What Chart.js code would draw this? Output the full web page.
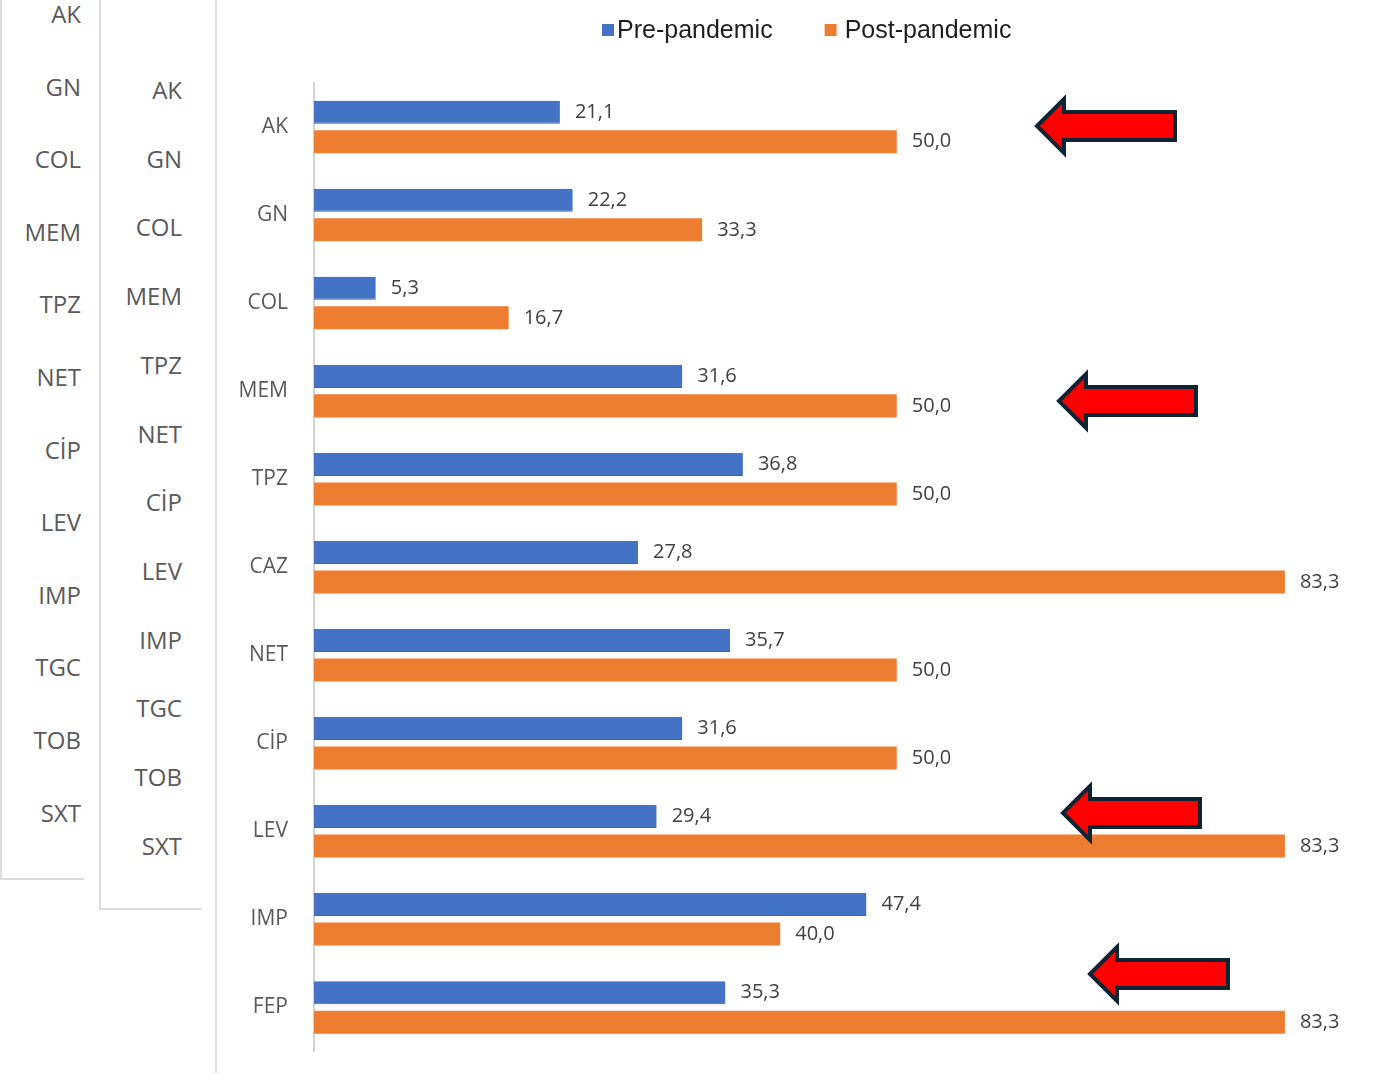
<!DOCTYPE html>
<html>
<head>
<meta charset="utf-8">
<script src="https://cdn.jsdelivr.net/npm/chart.js@4.4.0/dist/chart.umd.min.js"></script>
<style>
  html, body { margin: 0; padding: 0; background: #fff; }
  body { width: 1386px; height: 1073px; position: relative; overflow: hidden; font-family: "Open Sans", sans-serif; }
  .panel { position: absolute; border-color: #dcdcdc; border-style: solid; }
  .panel span { position: absolute; color: #5a5a5a; font-size: 24px; line-height: 1; transform: translateY(-50%); }
  #panel1 span { right: 3px; }
  #panel2 span { right: 19px; }
  /* o eixo y reserva ~39px embaixo, então a caixa passa um pouco do fundo da janela */
  #chartBox { position: absolute; left: 215px; top: 0; width: 1171px; height: 1090px; border-left: 2px solid #e2e2e2; box-sizing: border-box; }
  #arrows { position: absolute; left: 0; top: 0; pointer-events: none; }
</style>
</head>
<body>
<div class="panel" id="panel1" style="left:0;top:-2px;width:82px;height:880px;border-width:0 0 2px 2px;"></div>
<div class="panel" id="panel2" style="left:99px;top:-2px;width:100px;height:910px;border-width:0 0 2px 2px;"></div>
<div id="chartBox"><canvas id="chart"></canvas></div>
<svg id="arrows" width="1386" height="1073"></svg>

<script>
// Categorias e valores (%)
const categories = ['AK', 'GN', 'COL', 'MEM', 'TPZ', 'CAZ', 'NET', 'CİP', 'LEV', 'IMP', 'FEP'];
const prePandemic = [21.1, 22.2, 5.3, 31.6, 36.8, 27.8, 35.7, 31.6, 29.4, 47.4, 35.3];
const postPandemic = [50.0, 33.3, 16.7, 50.0, 50.0, 83.3, 50.0, 50.0, 83.3, 40.0, 83.3];
const seriesNames = ['Pre-pandemic', 'Post-pandemic'];

// Restos das listas recortadas à esquerda
const panel1Labels = ['AK', 'GN', 'COL', 'MEM', 'TPZ', 'NET', 'CİP', 'LEV', 'IMP', 'TGC', 'TOB', 'SXT'];
const panel2Labels = ['AK', 'GN', 'COL', 'MEM', 'TPZ', 'NET', 'CİP', 'LEV', 'IMP', 'TGC', 'TOB', 'SXT'];

function fillPanel(id, labels, first, step) {
    const el = document.getElementById(id);
    labels.forEach((txt, i) => {
        const s = document.createElement('span');
        s.textContent = txt;
        s.style.top = (first + i * step + 2) + 'px';
        el.appendChild(s);
    });
}
fillPanel('panel1', panel1Labels, 14, 72.6);
fillPanel('panel2', panel2Labels, 90, 68.7);

// Setas vermelhas (anotações)
function drawArrow(svg, tipX, tipY, rightX) {
    const head = 27, half = 27, body = 14;
    const pts = [
        [tipX, tipY],
        [tipX + head, tipY - half],
        [tipX + head, tipY - body],
        [rightX, tipY - body],
        [rightX, tipY + body],
        [tipX + head, tipY + body],
        [tipX + head, tipY + half]
    ].map(p => p.join(',')).join(' ');
    const poly = document.createElementNS('http://www.w3.org/2000/svg', 'polygon');
    poly.setAttribute('points', pts);
    poly.setAttribute('fill', '#ff0000');
    poly.setAttribute('stroke', '#0e2433');
    poly.setAttribute('stroke-width', '4');
    poly.setAttribute('stroke-linejoin', 'miter');
    svg.appendChild(poly);
}
const svg = document.getElementById('arrows');
drawArrow(svg, 1037, 126, 1175);
drawArrow(svg, 1059, 401, 1196);
drawArrow(svg, 1063, 813, 1200);
drawArrow(svg, 1090, 974, 1228);

// Rótulos de valor no fim de cada barra
const valueLabels = {
    id: 'valueLabels',
    afterDatasetsDraw(chart) {
        const ctx = chart.ctx;
        ctx.save();
        ctx.font = '20px "Open Sans", sans-serif';
        ctx.fillStyle = '#404040';
        ctx.textBaseline = 'middle';
        ctx.textAlign = 'left';
        chart.data.datasets.forEach((ds, di) => {
            chart.getDatasetMeta(di).data.forEach((bar, i) => {
                const txt = ds.data[i].toFixed(1).replace('.', ',');
                ctx.fillText(txt, bar.x + 15, bar.y);
            });
        });
        ctx.restore();
    }
};

// Legenda desenhada à mão (mais compacta que a padrão)
const topLegend = {
    id: 'topLegend',
    afterDraw(chart) {
        const ctx = chart.ctx;
        ctx.save();
        ctx.font = '25px "Liberation Sans", Arial, sans-serif';
        ctx.textBaseline = 'middle';
        const box = 12, spacing = 52;
        const gaps = [3, 8];
        let x = 600 - 215;
        const y = 30;
        chart.data.datasets.forEach((ds, i) => {
            const w = ctx.measureText(ds.label).width;
            ctx.fillStyle = ds.backgroundColor;
            ctx.fillRect(x, y - box / 2, box, box);
            x += box + gaps[i];
            ctx.fillStyle = '#1e1e1e';
            ctx.fillText(ds.label, x, y + 1);
            x += w + spacing;
        });
        ctx.restore();
    }
};

new Chart(document.getElementById('chart'), {
    type: 'bar',
    data: {
        labels: categories,
        datasets: [
            { label: seriesNames[0], data: prePandemic, backgroundColor: '#4472C4', borderColor: '#3a63ad', borderWidth: { bottom: 1 } },
            { label: seriesNames[1], data: postPandemic, backgroundColor: '#ED7D31' }
        ]
    },
    options: {
        indexAxis: 'y',
        responsive: true,
        maintainAspectRatio: false,
        animation: false,
        categoryPercentage: 0.67,
        barPercentage: 0.78,
        layout: { padding: { top: 83, bottom: 10, right: 23, left: 0 } },
        scales: {
            x: { display: false, min: 0, max: 90 },
            y: {
                afterFit(scale) { scale.width = 97; },
                grid: { display: false, drawTicks: false },
                border: { display: true, color: '#d4d4d4', width: 2 },
                ticks: { padding: 26, color: '#595959', font: { family: '"Open Sans", sans-serif', size: 21 } }
            }
        },
        plugins: {
            legend: { display: false },
            tooltip: { enabled: false }
        }
    },
    plugins: [valueLabels, topLegend]
});
</script>
</body>
</html>
